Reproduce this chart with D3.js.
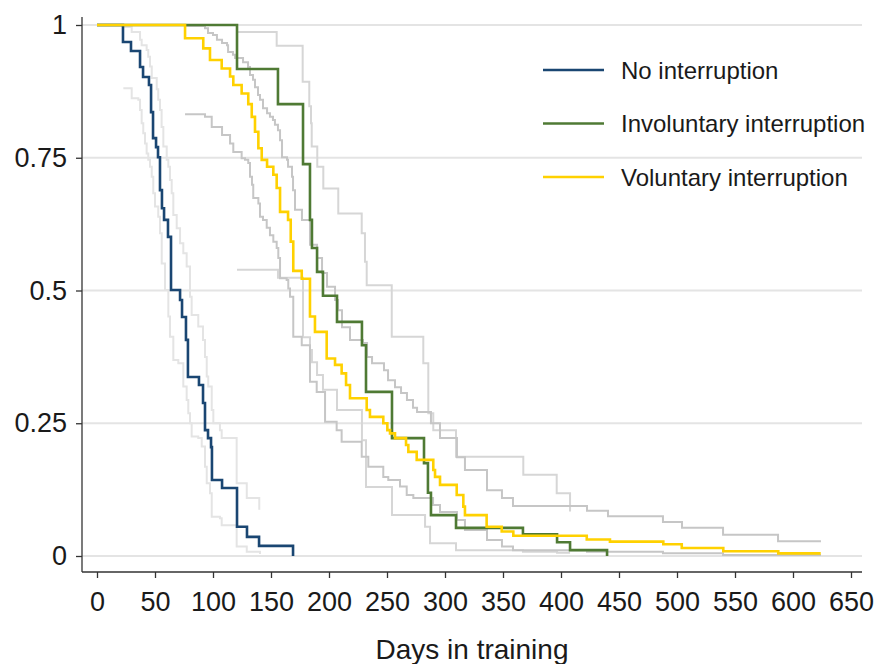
<!DOCTYPE html>
<html>
<head>
<meta charset="utf-8">
<script src="https://cdn.jsdelivr.net/npm/d3@7"></script>
<style>
  body { margin: 0; background: #fff; }
  text { font-family: "Liberation Sans", Arial, sans-serif; fill: #1a1a1a; }
</style>
</head>
<body>
<div id="chart"></div>
<script>
// Kaplan-Meier curves, each entry is [day of drop, survival after drop]
const noInterruption = [[0,1],[22.4,.968],[29.3,.951],[37.1,.921],[39.7,.902],[44.8,.887],[46.6,.836],[48.3,.787],[50.9,.770],[52.6,.751],[54.3,.689],[56.0,.655],[57.8,.633],[61.2,.601],[63.8,.501],[71.6,.482],[73.3,.450],[76.7,.407],[78.4,.337],[87.9,.322],[91.4,.288],[93.1,.237],[95.7,.222],[98.3,.205],[99.1,.143],[107.8,.128],[120.7,.055],[129.3,.036],[139.7,.019],[169.0,0]];
const involuntary = [[0,1],[120.7,.917],[156.0,.851],[177.6,.738],[183.6,.633],[185.3,.580],[189.7,.535],[194.8,.490],[206.9,.441],[228.4,.397],[231.9,.309],[254.3,.222],[281.9,.175],[285.3,.119],[287.9,.077],[309.5,.053],[367.2,.041],[396.6,.026],[407.8,.011],[439.7,0]];
const voluntary = [[0,1],[75.9,.975],[91.6,.956],[97.4,.934],[107.5,.918],[114.7,.903],[117.5,.887],[124.7,.871],[130.4,.851],[133.4,.827],[136.2,.799],[139.1,.768],[142.0,.746],[146.6,.733],[152.0,.718],[154.9,.693],[157.8,.648],[164.7,.633],[167.0,.592],[169.2,.537],[176.5,.522],[183.6,.451],[187.9,.422],[198.0,.372],[205.2,.360],[210.9,.344],[214.7,.322],[218.1,.297],[232.5,.275],[235.3,.262],[246.8,.250],[250.3,.237],[252.6,.231],[256.9,.222],[266.4,.209],[268.4,.196],[275.6,.181],[289.9,.162],[291.4,.149],[295.7,.134],[310.1,.115],[315.8,.093],[317.2,.077],[335.9,.055],[348.9,.046],[358.9,.038],[422.2,.031],[442.2,.027],[488.2,.022],[504.1,.015],[539.9,.009],[587.3,.005],[623.9,.005]];

// confidence bands
const noIntUpper = [[22.4,.996],[29.9,.987],[37.1,.972],[38.5,.962],[42.8,.953],[44.2,.940],[45.7,.922],[47.2,.900],[51.5,.879],[52.8,.859],[54.3,.840],[55.7,.808],[57.2,.771],[60.1,.746],[61.5,.733],[62.9,.708],[64.4,.683],[65.8,.642],[68.7,.617],[71.6,.589],[74.4,.570],[77.3,.545],[80.2,.488],[81.6,.454],[87.3,.432],[91.4,.407],[93.1,.375],[94.6,.338],[95.9,.319],[98.9,.275],[100.3,.250],[106.0,.237],[107.5,.222],[120.4,.137],[129.1,.109],[139.9,.087]];
const noIntLower = [[22.7,.881],[29.9,.862],[35.6,.859],[37.1,.840],[38.5,.815],[39.9,.796],[41.4,.777],[42.8,.758],[44.2,.746],[45.7,.733],[47.2,.714],[48.5,.683],[50.0,.658],[52.8,.639],[54.3,.608],[55.8,.551],[58.6,.501],[61.5,.451],[62.9,.413],[65.8,.369],[70.1,.363],[74.4,.319],[77.3,.294],[78.7,.269],[80.2,.250],[81.6,.225],[87.3,.222],[90.3,.206],[93.1,.168],[94.6,.137],[97.4,.118],[98.9,.074],[106.0,.071],[107.5,.058],[120.4,.018],[129.1,.008],[140.5,.004]];
const involUpper = [[120.7,.987],[154.9,.961],[177.3,.893],[183.0,.847],[184.5,.815],[185.1,.771],[189.9,.733],[195.1,.692],[208.0,.645],[228.2,.608],[231.0,.554],[232.5,.510],[254.1,.413],[281.3,.363],[285.6,.269],[289.9,.237],[309.5,.187],[367.5,.153],[396.3,.118],[407.8,.084]];
const involLower = [[120.7,.539],[156.0,.524],[177.6,.412],[183.6,.388],[185.3,.365],[189.7,.341],[194.8,.313],[206.9,.275],[228.4,.218],[231.9,.130],[254.3,.077],[282.8,.055],[287.1,.024],[309.5,.011],[367.2,.008],[396.6,.006],[407.8,.006]];
const volUpper = [[75.9,.998],[93.1,.994],[95.7,.985],[100.0,.981],[103.4,.972],[107.8,.966],[112.1,.962],[113.0,.949],[117.2,.944],[119.0,.938],[125.9,.930],[130.2,.921],[131.9,.906],[134.5,.897],[136.2,.883],[138.8,.868],[140.5,.859],[143.1,.843],[146.6,.834],[149.1,.827],[151.7,.821],[153.4,.812],[156.0,.802],[157.8,.783],[159.5,.751],[163.8,.746],[164.7,.733],[168.1,.714],[169.0,.689],[170.7,.652],[176.7,.633],[183.6,.586],[189.7,.561],[194.0,.533],[198.3,.507],[205.2,.482],[207.8,.463],[211.2,.431],[218.1,.407],[229.3,.401],[232.8,.375],[237.1,.363],[247.4,.350],[250.9,.331],[256.9,.318],[262.1,.307],[267.2,.294],[272.4,.279],[275.9,.271],[287.9,.250],[295.7,.222],[310.3,.186],[317.2,.162],[336.2,.124],[349.1,.109],[358.6,.094],[422.4,.085],[440.5,.075],[487.9,.064],[504.3,.053],[539.7,.040],[587.1,.028],[624.1,.028]];
const volLower = [[75.9,.832],[93.1,.827],[98.9,.808],[107.8,.793],[114.7,.777],[117.5,.761],[124.7,.749],[127.6,.746],[130.4,.740],[131.9,.714],[133.6,.699],[134.7,.674],[139.1,.664],[140.5,.639],[143.1,.633],[146.3,.618],[149.1,.604],[152.0,.592],[154.9,.580],[156.3,.561],[157.8,.523],[163.5,.520],[164.9,.504],[166.4,.488],[169.2,.413],[176.5,.397],[183.6,.328],[189.4,.309],[196.6,.253],[206.6,.237],[210.9,.215],[228.2,.187],[233.9,.168],[246.8,.149],[251.1,.143],[261.2,.131],[267.0,.115],[272.7,.109],[289.7,.096],[295.7,.083],[310.3,.068],[317.2,.049],[336.2,.030],[349.1,.018],[358.6,.011],[422.4,.008],[487.9,.005],[539.7,.002],[624.1,.002]];

const xTicks = d3.range(0, 651, 50);
const yTicks = [0, 0.25, 0.5, 0.75, 1];
const legendLabels = ["No interruption", "Involuntary interruption", "Voluntary interruption"];

const config = {
  width: 874,
  height: 664,
  plotLeft: 82,
  plotRight: 862,
  plotTop: 17,
  plotBottom: 572,
  colors: { noInt: "#1a4672", invol: "#4f7a34", vol: "#ffd100" },
};

const svg = d3
  .select("#chart")
  .append("svg")
  .attr("width", config.width)
  .attr("height", config.height);

const x = d3.scaleLinear().domain([0, 650]).range([97, 851]);
const y = d3.scaleLinear().domain([0, 1]).range([556, 25]);

// gridlines
svg
  .append("g")
  .selectAll("line")
  .data(yTicks)
  .join("line")
  .attr("x1", config.plotLeft)
  .attr("x2", config.plotRight)
  .attr("y1", (d) => y(d))
  .attr("y2", (d) => y(d))
  .attr("stroke", "#e4e4e4")
  .attr("stroke-width", 2);

const line = d3
  .line()
  .x((d) => x(d[0]))
  .y((d) => y(d[1]))
  .curve(d3.curveStepAfter);

const bands = [
  { data: noIntUpper, color: "#e4e4e4" },
  { data: noIntLower, color: "#e4e4e4" },
  { data: involUpper, color: "#d6d6d6" },
  { data: involLower, color: "#d6d6d6" },
  { data: volUpper, color: "#c6c6c6" },
  { data: volLower, color: "#c6c6c6" },
];

svg
  .append("g")
  .selectAll("path")
  .data(bands)
  .join("path")
  .attr("d", (d) => line(d.data))
  .attr("fill", "none")
  .attr("stroke", (d) => d.color)
  .attr("stroke-width", 2);

const curves = [
  { data: noInterruption, color: config.colors.noInt },
  { data: involuntary, color: config.colors.invol },
  { data: voluntary, color: config.colors.vol },
];

svg
  .append("g")
  .selectAll("path")
  .data(curves)
  .join("path")
  .attr("d", (d) => line(d.data))
  .attr("fill", "none")
  .attr("stroke", (d) => d.color)
  .attr("stroke-width", 2.6);

// axes
const xAxis = svg
  .append("g")
  .attr("transform", `translate(0, ${config.plotBottom})`)
  .call(d3.axisBottom(x).tickValues(xTicks).tickSize(6).tickPadding(14));
xAxis.select(".domain").remove();
xAxis.selectAll("line").attr("stroke", "#333").attr("stroke-width", 1.3);
xAxis.selectAll("text").attr("font-size", 27).attr("font-family", null);

const yAxis = svg
  .append("g")
  .attr("transform", `translate(${config.plotLeft}, 0)`)
  .call(d3.axisLeft(y).tickValues(yTicks).tickSize(6).tickPadding(9).tickFormat((d) => String(d)));
yAxis.select(".domain").remove();
yAxis.selectAll("line").attr("stroke", "#333").attr("stroke-width", 1.3);
yAxis.selectAll("text").attr("font-size", 27).attr("font-family", null);

svg
  .append("line")
  .attr("x1", config.plotLeft)
  .attr("x2", config.plotRight)
  .attr("y1", config.plotBottom)
  .attr("y2", config.plotBottom)
  .attr("stroke", "#333")
  .attr("stroke-width", 1.3);
svg
  .append("line")
  .attr("x1", config.plotLeft)
  .attr("x2", config.plotLeft)
  .attr("y1", config.plotTop)
  .attr("y2", config.plotBottom)
  .attr("stroke", "#333")
  .attr("stroke-width", 1.3);

svg
  .append("text")
  .attr("x", 472)
  .attr("y", 659)
  .attr("text-anchor", "middle")
  .attr("font-size", 28)
  .text("Days in training");

// legend
const legend = svg
  .append("g")
  .selectAll("g")
  .data(legendLabels)
  .join("g")
  .attr("transform", (d, i) => `translate(543, ${70 + i * 53.5})`);
legend
  .append("line")
  .attr("x1", 0)
  .attr("x2", 61)
  .attr("stroke", (d, i) => curves[i].color)
  .attr("stroke-width", 2.6);
legend
  .append("text")
  .attr("x", 78)
  .attr("y", 8.5)
  .attr("font-size", 24)
  .text((d) => d);
</script>
</body>
</html>
